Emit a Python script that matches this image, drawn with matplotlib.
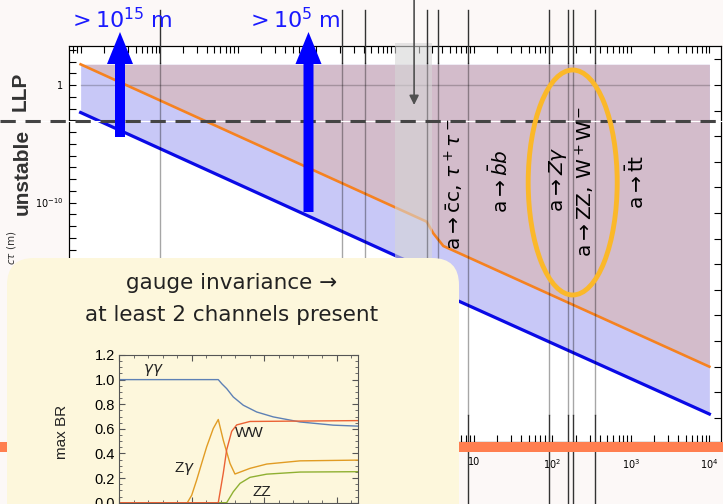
import numpy as np
import matplotlib
matplotlib.use("Agg")
import matplotlib.pyplot as plt
from matplotlib import ticker, transforms
from matplotlib.patches import FancyBboxPatch, Ellipse, FancyArrow, Rectangle

plt.rcParams["mathtext.fontset"] = "dejavusans"
plt.rcParams["lines.scale_dashes"] = False

W, H = 723, 504

# ALP decay length band vs. mass (GeV): upper (orange) and lower (blue) edge
mass_gev = [1e-4, 2.53, 3.07, 4.12, 1e4]
ctau_upper = [10**1.76, 10**-11.63, 10**-12.62, 10**-13.70, 10**-23.97]
ctau_lower = [10**-2.34, 10**-15.73, 10**-16.72, 10**-17.80, 10**-28.0]
ctau_top = 10**1.76
ctau_llp = 10**-3.06

# decay thresholds (GeV)
threshold_gev = [1.022e-3, 0.2113, 0.41, 2.55, 3.55, 8.4, 91.19, 160.8, 182.4, 346.0]
hadronic_gev = (1.0, 3.0)
marker_gev = 1.75

channel_labels = [
    r"$\mathrm{a} \rightarrow \bar{\mathrm{c}}\mathrm{c},\, \tau^+\tau^-$",
    r"$\mathrm{a} \rightarrow \bar{b}b$",
    r"$\mathrm{a} \rightarrow Z\gamma$",
    r"$\mathrm{a} \rightarrow \mathrm{ZZ},\, \mathrm{W}^+\mathrm{W}^-$",
    r"$\mathrm{a} \rightarrow \bar{\mathrm{t}}\mathrm{t}$",
]

# maximal branching ratios (inset)
gg_x = [0, 136.9, 142.0, 148.5, 157.6, 171.4, 189.9, 212.8, 249.6, 295.5, 330]
gg_br = [1.0, 1.0, 0.965, 0.927, 0.859, 0.792, 0.737, 0.697, 0.656, 0.63, 0.622]
zg_x = [0, 94.2, 100.2, 107.1, 114.0, 120.9, 130.0, 136.9, 143.8, 153.1, 159.9, 180.6, 203.7, 249.6, 330]
zg_br = [0, 0, 0.06, 0.184, 0.32, 0.454, 0.603, 0.676, 0.508, 0.319, 0.233, 0.279, 0.314, 0.34, 0.346]
ww_x = [0, 136.9, 143.8, 148.5, 155.4, 162.3, 180.6, 330]
ww_br = [0, 0, 0.24, 0.43, 0.58, 0.632, 0.66, 0.667]
zz_x = [0, 148.5, 157.6, 166.9, 180.6, 203.7, 249.6, 330]
zz_br = [0, 0, 0.089, 0.157, 0.206, 0.232, 0.249, 0.252]


def px_box(left, top, right, bottom):
    return [left / W, 1 - bottom / H, (right - left) / W, (bottom - top) / H]


fig = plt.figure(figsize=(W / 100, H / 100), dpi=100, facecolor="#fcf8f7")

# --- main decay-length plot ---
ax = fig.add_axes(px_box(69, 46, 721, 442))
ax.set_xscale("log")
ax.set_yscale("log")
ax.set_xlim(10**-4.148, 10**4.148)
ax.set_ylim(10**-30.38, 10**3.32)

ax.fill_between(mass_gev, ctau_lower, ctau_top, color="#c8c8f7", lw=0, zorder=1)
ax.fill_between(mass_gev, ctau_upper, ctau_top, color="#d3bccb", lw=0, zorder=2)
ax.plot([mass_gev[0], mass_gev[-1]], [1, 1], color="k", alpha=0.22, lw=1, zorder=3)
ax.plot(mass_gev, ctau_lower, color="#0a0ae6", lw=2.3, zorder=4)
ax.plot(mass_gev, ctau_upper, color="#f68220", lw=1.9, zorder=4)


def yfmt(v, pos):
    e = int(round(np.log10(v)))
    return "1" if e == 0 else rf"$10^{{{e}}}$"


def xfmt(v, pos):
    e = int(round(np.log10(v)))
    if e < 1:
        return ""
    if e == 1:
        return "10"
    return rf"$10^{{{e}}}$"


ax.yaxis.set_major_locator(ticker.FixedLocator([1e-10, 1]))
ax.yaxis.set_minor_locator(ticker.FixedLocator(10.0 ** np.arange(-30, 4)))
ax.yaxis.set_major_formatter(ticker.FuncFormatter(yfmt))
ax.yaxis.set_minor_formatter(ticker.NullFormatter())
ax.tick_params(axis="y", which="both", direction="in", length=5, width=0.8,
               left=True, right=False, labelsize=7, pad=4)

ax.xaxis.set_major_locator(ticker.LogLocator(base=10, numticks=20))
ax.xaxis.set_minor_locator(ticker.LogLocator(base=10, subs=np.arange(2, 10), numticks=20))
ax.xaxis.set_major_formatter(ticker.FuncFormatter(xfmt))
ax.xaxis.set_minor_formatter(ticker.NullFormatter())
ax.tick_params(axis="x", which="both", direction="in", length=5, width=0.8,
               top=True, bottom=True, labelsize=7, pad=11)
for s in ax.spines.values():
    s.set_linewidth(0.8)

axr = ax.twinx()
axr.set_yscale("log")
axr.set_ylim(ax.get_ylim())
axr.yaxis.set_major_locator(ticker.FixedLocator(10.0 ** (-2.179 * np.arange(-1, 15))))
axr.yaxis.set_minor_locator(ticker.NullLocator())
axr.tick_params(axis="y", direction="in", length=5, width=0.8, labelright=False)
for s in axr.spines.values():
    s.set_linewidth(0.8)

# --- overlay in pixel coordinates ---
ov = fig.add_axes([0, 0, 1, 1], zorder=5)
ov.set_xlim(0, W)
ov.set_ylim(H, 0)
ov.set_autoscale_on(False)
ov.axis("off")
mx = transforms.blended_transform_factory(ax.transData, ov.transData)
my = transforms.blended_transform_factory(ov.transData, ax.transData)

ov.add_patch(Rectangle((hadronic_gev[0], 43), hadronic_gev[1] - hadronic_gev[0], 442 - 43,
                       transform=mx, fc="#d6d6d6", alpha=0.6, lw=0, zorder=1))

for m in threshold_gev:
    ov.plot([m, m], [10, 63], color="#333333", lw=1, transform=mx, zorder=2)
    ov.plot([m, m], [63, 415], color="k", alpha=0.35, lw=1, transform=mx, zorder=2)
    ov.plot([m, m], [415, H], color="#333333", lw=1, transform=mx, zorder=2)

ov.plot([0, W], [ctau_llp, ctau_llp], color="white", lw=0.8, transform=my, zorder=3)
ov.plot([0, W], [ctau_llp, ctau_llp], color="#444444", lw=2.2, dashes=(11, 7),
        transform=my, zorder=3)

ov.add_patch(Rectangle((0, 442), W, 10, fc="#ff7f50", lw=0, zorder=4))

ov.annotate("", xy=(marker_gev, 105), xytext=(marker_gev, 0), xycoords=mx, textcoords=mx,
            arrowprops=dict(arrowstyle="-|>", color="#505050", lw=1.2,
                            mutation_scale=14, shrinkA=0, shrinkB=0), zorder=4)

for x, y0 in [(120, 137), (308.5, 212)]:
    ov.add_patch(FancyArrow(x, y0, 0, 32 - y0, width=10, head_width=26, head_length=32,
                            length_includes_head=True, color="#0000ff", lw=0, zorder=6))
ov.text(120, 28, r"$> 10^{15}\;\mathrm{m}$", color="#1a1aff", fontsize=16,
        ha="center", va="baseline")
ov.text(293.5, 28, r"$> 10^{5}\;\mathrm{m}$", color="#1a1aff", fontsize=16,
        ha="center", va="baseline")

ov.text(20.5, 91, "LLP", rotation=90, fontsize=15, fontweight="bold",
        family="Liberation Sans", color="#333333", ha="center", va="center")
ov.text(22, 172, "unstable", rotation=90, fontsize=15, fontweight="bold",
        family="Liberation Sans", color="#333333", ha="center", va="center")
ov.text(11, 230, r"$c\tau$ (m)", rotation=90, fontsize=7.5,
        color="#333333", ha="center", va="top")

for x, y, lab in zip([454, 500, 558, 585, 637], [184, 181, 179, 181, 182], channel_labels):
    ov.text(x, y, lab, rotation=90, fontsize=14.5, ha="center", va="center", zorder=5)

ov.add_patch(Ellipse((572.7, 182.5), 89, 225, fill=False, ec="#fbb829", lw=3.5, zorder=6))

# --- inset panel ---
ov.add_patch(FancyBboxPatch((7, 258), 452, 300, boxstyle="round,pad=0,rounding_size=27",
                            fc="#fdf7dc", ec="none", zorder=10))
ov.text(232, 283, "gauge invariance →", fontsize=15.5, color="#222222",
        ha="center", va="center", zorder=11)
ov.text(232, 315, "at least 2 channels present", fontsize=15.5, color="#222222",
        ha="center", va="center", zorder=11)
ov.text(62, 432, "max BR", rotation=90, fontsize=11, family="Liberation Sans",
        color="#222222", ha="center", va="center", zorder=11)

axi = fig.add_axes(px_box(119, 355, 358.3, 502.7), zorder=6)
axi.patch.set_alpha(0)
axi.plot(gg_x, gg_br, color="#5e81b5", lw=1)
axi.plot(zg_x, zg_br, color="#e19c24", lw=1)
axi.plot(zz_x, zz_br, color="#8fb032", lw=1)
axi.plot(ww_x, ww_br, color="#eb6235", lw=1)
axi.set_xlim(0, 330)
axi.set_ylim(0, 1.2)
axi.set_yticks(np.arange(0, 1.21, 0.2), [f"{v:.1f}" for v in np.arange(0, 1.21, 0.2)],
               family="Liberation Sans", fontsize=10.5)
axi.yaxis.set_minor_locator(ticker.MultipleLocator(0.05))
axi.xaxis.set_major_locator(ticker.MultipleLocator(100))
axi.xaxis.set_minor_locator(ticker.MultipleLocator(20))
axi.tick_params(which="both", direction="in", top=True, right=True, labelbottom=False,
                color="#555555", pad=3)
axi.tick_params(which="major", length=4)
axi.tick_params(which="minor", length=2.5)
for s in axi.spines.values():
    s.set_color("#555555")
    s.set_linewidth(0.8)

lab_kw = dict(family="Liberation Sans", fontsize=11, color="#222222", ha="center", va="center")
axi.text(46.9, 1.075, r"$\gamma\gamma$", **lab_kw)
axi.text(91, 0.281, r"Z$\gamma$", **lab_kw)
axi.text(179.3, 0.569, "WW", **lab_kw)
axi.text(196.5, 0.083, "ZZ", **lab_kw)

fig.savefig("out.png", dpi=100, facecolor=fig.get_facecolor())
